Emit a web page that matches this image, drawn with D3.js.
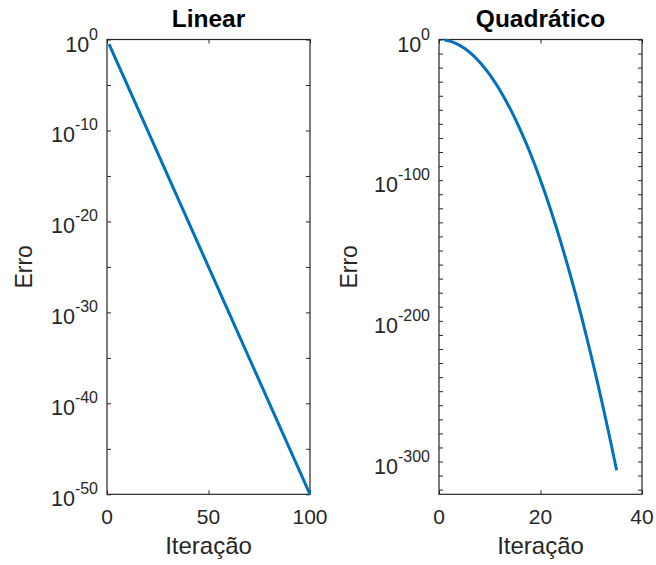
<!DOCTYPE html>
<html>
<head>
<meta charset="utf-8">
<script src="https://cdn.jsdelivr.net/npm/d3@7"></script>
<style>
  body { margin: 0; background: #fff; }
  text { font-family: "Liberation Sans", Arial, sans-serif; fill: #262626; }
</style>
</head>
<body>
<div id="chart"></div>
<script>
// values (error stored as its base-10 exponent)
var linearIter = [1, 25, 50, 75, 100];
var linearLogErr = [-0.5, -12.5, -25, -37.5, -50];

var quadIter = [1, 2, 3, 4, 5, 6, 7, 8, 9, 10, 11, 12, 13, 14, 15, 16, 17, 18,
  19, 20, 21, 22, 23, 24, 25, 26, 27, 28, 29, 30, 31, 32, 33, 34, 35];
var quadLogErr = [-0.25, -1, -2.25, -4, -6.25, -9, -12.25, -16, -20.25, -25,
  -30.25, -36, -42.25, -49, -56.25, -64, -72.25, -81, -90.25, -100, -110.25,
  -121, -132.25, -144, -156.25, -169, -182.25, -196, -210.25, -225, -240.25,
  -256, -272.25, -289, -306.25];

var linearXTicks = [0, 50, 100];
var linearYTicks = [0, -10, -20, -30, -40, -50];
var quadXTicks = [0, 20, 40];
var quadYTicks = [0, -100, -200, -300];

var titles = ["Linear", "Quadrático"];
var xLabel = "Iteração";
var yLabel = "Erro";

var lineColor = "#0072BD";
var axisColor = "#262626";

var width = 656, height = 565;
var plotTop = 39.5, plotBottom = 494.3;

var svg = d3.select("#chart").append("svg")
    .attr("width", width)
    .attr("height", height);

var panels = [
  {
    title: titles[0], left: 107, right: 310,
    xDomain: [0, 100], yDomain: [1e-50, 1],
    iter: linearIter, logErr: linearLogErr,
    xTicks: linearXTicks, yTicks: linearYTicks,
    minor: d3.range(-45, 0, 10), yLabelX: 31.5
  },
  {
    title: titles[1], left: 439, right: 642,
    xDomain: [0, 40], yDomain: [Math.pow(10, -323.306), 1],
    iter: quadIter, logErr: quadLogErr,
    xTicks: quadXTicks, yTicks: quadYTicks,
    minor: d3.range(-320, 0, 10).filter(function (e) { return e % 100 != 0; }),
    yLabelX: 357
  }
];

panels.forEach(function (p) {
  var x = d3.scaleLinear().domain(p.xDomain).range([p.left, p.right]);
  var y = d3.scaleLog().domain(p.yDomain).range([plotBottom, plotTop]);

  var g = svg.append("g");
  var tk = 4;

  // ticks, inward on all four sides
  var yVals = p.yTicks.concat(p.minor).map(function (e) { return Math.pow(10, e); });

  g.append("g")
    .attr("transform", "translate(" + p.left + ",0)")
    .call(d3.axisRight(y).tickValues(yVals).tickSize(tk).tickFormat(""));
  g.append("g")
    .attr("transform", "translate(" + p.right + ",0)")
    .call(d3.axisLeft(y).tickValues(yVals).tickSize(tk).tickFormat(""));
  g.append("g")
    .attr("transform", "translate(0," + plotBottom + ")")
    .call(d3.axisTop(x).tickValues(p.xTicks).tickSize(tk).tickFormat(""));
  g.append("g")
    .attr("transform", "translate(0," + plotTop + ")")
    .call(d3.axisBottom(x).tickValues(p.xTicks).tickSize(tk).tickFormat(""));

  g.selectAll(".domain").remove();
  g.selectAll(".tick line").attr("stroke", axisColor).attr("stroke-width", 1);

  // box
  g.append("rect")
    .attr("x", p.left)
    .attr("y", plotTop)
    .attr("width", p.right - p.left)
    .attr("height", plotBottom - plotTop)
    .attr("fill", "none")
    .attr("stroke", axisColor)
    .attr("stroke-width", 1.2);

  // y tick labels 10^n
  p.yTicks.forEach(function (e) {
    var t = g.append("text")
      .attr("x", p.left - 9)
      .attr("y", y(Math.pow(10, e)) + 12)
      .attr("text-anchor", "end")
      .style("font-size", "21.5px");
    t.append("tspan").text("10");
    t.append("tspan")
      .attr("dy", -12)
      .style("font-size", "16px")
      .text(e == 0 ? "0" : "-" + Math.abs(e));
  });

  // x tick labels
  g.selectAll(".xlab")
    .data(p.xTicks)
    .enter().append("text")
    .attr("x", function (d) { return x(d); })
    .attr("y", plotBottom + 30)
    .attr("text-anchor", "middle")
    .style("font-size", "21px")
    .text(function (d) { return d; });

  // the error curve
  var pts = p.iter.map(function (k, i) {
    return [k, Math.pow(10, p.logErr[i])];
  });
  g.append("path")
    .datum(pts)
    .attr("fill", "none")
    .attr("stroke", lineColor)
    .attr("stroke-width", 3)
    .attr("stroke-linejoin", "round")
    .attr("d", d3.line()
      .x(function (d) { return x(d[0]); })
      .y(function (d) { return y(d[1]); }));

  // title and axis labels
  g.append("text")
    .attr("x", (p.left + p.right) / 2)
    .attr("y", 27)
    .attr("text-anchor", "middle")
    .style("font-size", "24.5px")
    .style("font-weight", "bold")
    .style("fill", "#000")
    .text(p.title);

  g.append("text")
    .attr("x", (p.left + p.right) / 2)
    .attr("y", 554)
    .attr("text-anchor", "middle")
    .style("font-size", "24px")
    .text(xLabel);

  g.append("text")
    .attr("transform", "translate(" + p.yLabelX + "," + (plotTop + plotBottom) / 2 + ") rotate(-90)")
    .attr("text-anchor", "middle")
    .style("font-size", "23px")
    .text(yLabel);
});
</script>
</body>
</html>
